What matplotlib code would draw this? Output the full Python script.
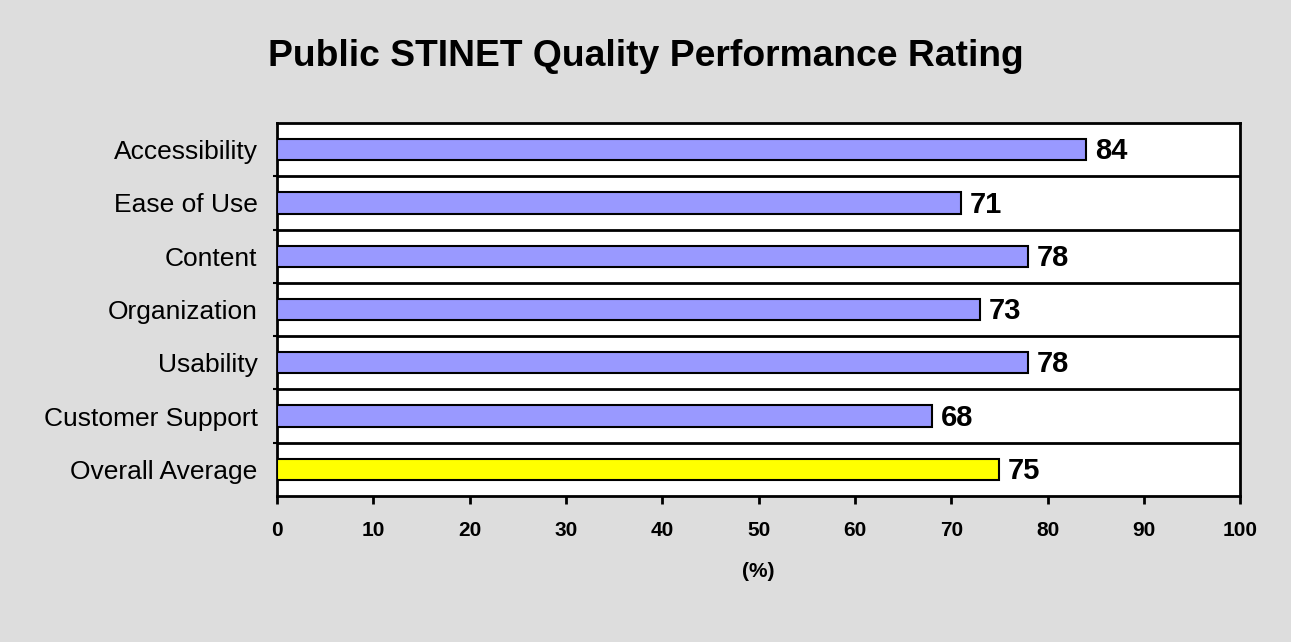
import matplotlib.pyplot as plt
import numpy as np

plt.rcParams['font.family'] = ['Liberation Sans', 'DejaVu Sans']

categories = ['Accessibility', 'Ease of Use', 'Content', 'Organization',
              'Usability', 'Customer Support', 'Overall Average']
values = [84, 71, 78, 73, 78, 68, 75]
colors = ['#9999FF'] * 6 + ['#FFFF00']
xticks = list(range(0, 101, 10))

fig = plt.figure(figsize=(12.91, 6.42), dpi=100, facecolor='#DDDDDD')
ax = fig.add_axes([0.2146, 0.2274, 0.746, 0.581])

y = np.arange(len(categories))
ax.barh(y, values, height=0.4, color=colors, edgecolor='black', linewidth=1.5, zorder=3)

for yi, v in zip(y, values):
    ax.text(v + 0.9, yi + 0.03, str(v), va='center', ha='left', fontsize=21, fontweight='bold', zorder=4)

ax.set_xlim(0, 100)
ax.set_ylim(len(categories) - 0.5, -0.5)
ax.set_yticks(y)
ax.set_yticklabels(categories, fontsize=19)
ax.set_yticks(np.arange(0.5, len(categories) - 0.5, 1), minor=True)
ax.tick_params(axis='y', which='major', length=0, pad=14)
ax.tick_params(axis='y', which='minor', length=3, width=1.5)
ax.grid(axis='y', which='minor', color='black', linewidth=2, zorder=1)

ax.set_xticks(xticks)
ax.set_xticklabels([str(t) for t in xticks], fontsize=15, fontweight='bold')
ax.tick_params(axis='x', length=6, width=2, pad=12)
ax.set_xlabel('(%)', fontsize=15, fontweight='bold', labelpad=16)

for s in ax.spines.values():
    s.set_linewidth(2)

fig.suptitle('Public STINET Quality Performance Rating', fontsize=26.8, fontweight='bold', y=0.94)

fig.savefig('out.png', dpi=100, facecolor=fig.get_facecolor())
